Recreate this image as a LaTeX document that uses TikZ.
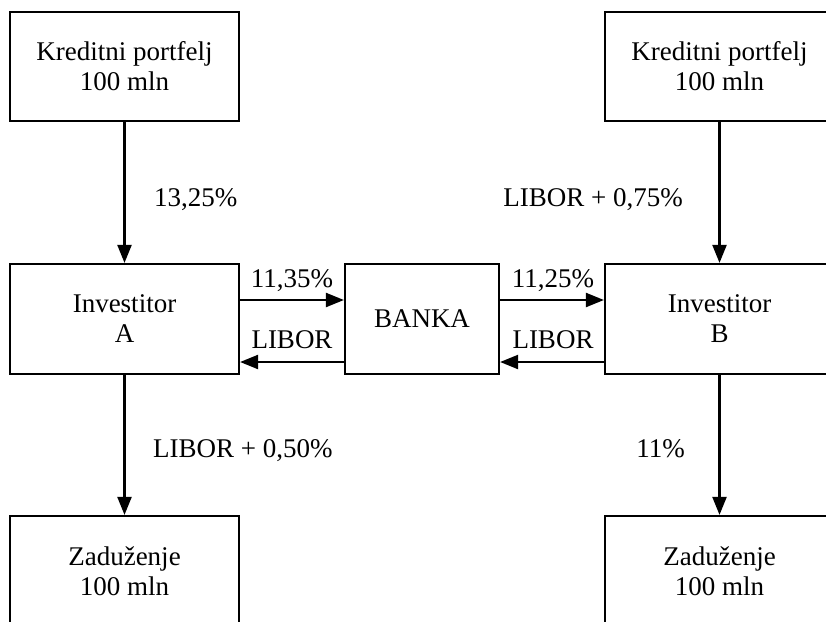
\documentclass[tikz,border=0pt]{standalone}
\usepackage{fontspec}
\setmainfont{Liberation Serif}
\usetikzlibrary{arrows.meta}
\begin{document}
\begin{tikzpicture}[x=1pt,y=-1pt,
  box/.style={draw, line width=2.2pt, minimum width=229pt, minimum height=109pt, align=center, inner sep=0pt, font=\fontsize{27}{30}\selectfont},
  arr/.style={line width=2.2pt, -{Triangle[length=18pt,width=14pt]}},
  lbl/.style={inner sep=0pt, font=\fontsize{27}{30}\selectfont}]
\useasboundingbox (0,0) rectangle (826,621);
\clip (0,0) rectangle (826,621);
\node[box] (tl) at (124.5,66.5) {Kreditni portfelj\\100 mln};
\node[box] (tr) at (719.5,66.5) {Kreditni portfelj\\100 mln};
\node[box, minimum height=110pt] (ia) at (124.5,319) {Investitor\\A};
\node[box, minimum height=110pt, minimum width=154pt] (bk) at (422,319) {BANKA};
\node[box, minimum height=110pt] (ib) at (719.5,319) {Investitor\\B};
\node[box, minimum height=110pt] (za) at (124.5,571) {Zadu\v{z}enje\\100 mln};
\node[box, minimum height=110pt] (zb) at (719.5,571) {Zadu\v{z}enje\\100 mln};
\draw[arr] (tl.south) -- (ia.north);
\draw[arr] (tr.south) -- (ib.north);
\draw[arr] (ia.south) -- (za.north);
\draw[arr] (ib.south) -- (zb.north);
\draw[arr] ([yshift=19pt]ia.east) -- ([yshift=19pt]bk.west);
\draw[arr] ([yshift=-43pt]bk.west) -- ([yshift=-43pt]ia.east);
\draw[arr] ([yshift=19pt]bk.east) -- ([yshift=19pt]ib.west);
\draw[arr] ([yshift=-43pt]ib.west) -- ([yshift=-43pt]bk.east);
\node[lbl, anchor=base] (l1) at (292,287) {11,35\%};
\node[lbl, anchor=base] (l2) at (292,348) {LIBOR};
\node[lbl, anchor=base] (l3) at (553,287) {11,25\%};
\node[lbl, anchor=base] (l4) at (553,348) {LIBOR};
\node[lbl, anchor=base west] (l5) at (154,206) {13,25\%};
\node[lbl, anchor=base east] (l6) at (683,206) {LIBOR + 0,75\%};
\node[lbl, anchor=base west] (l7) at (153,457) {LIBOR + 0,50\%};
\node[lbl, anchor=base east] (l8) at (685,457) {11\%};
\end{tikzpicture}
\end{document}
